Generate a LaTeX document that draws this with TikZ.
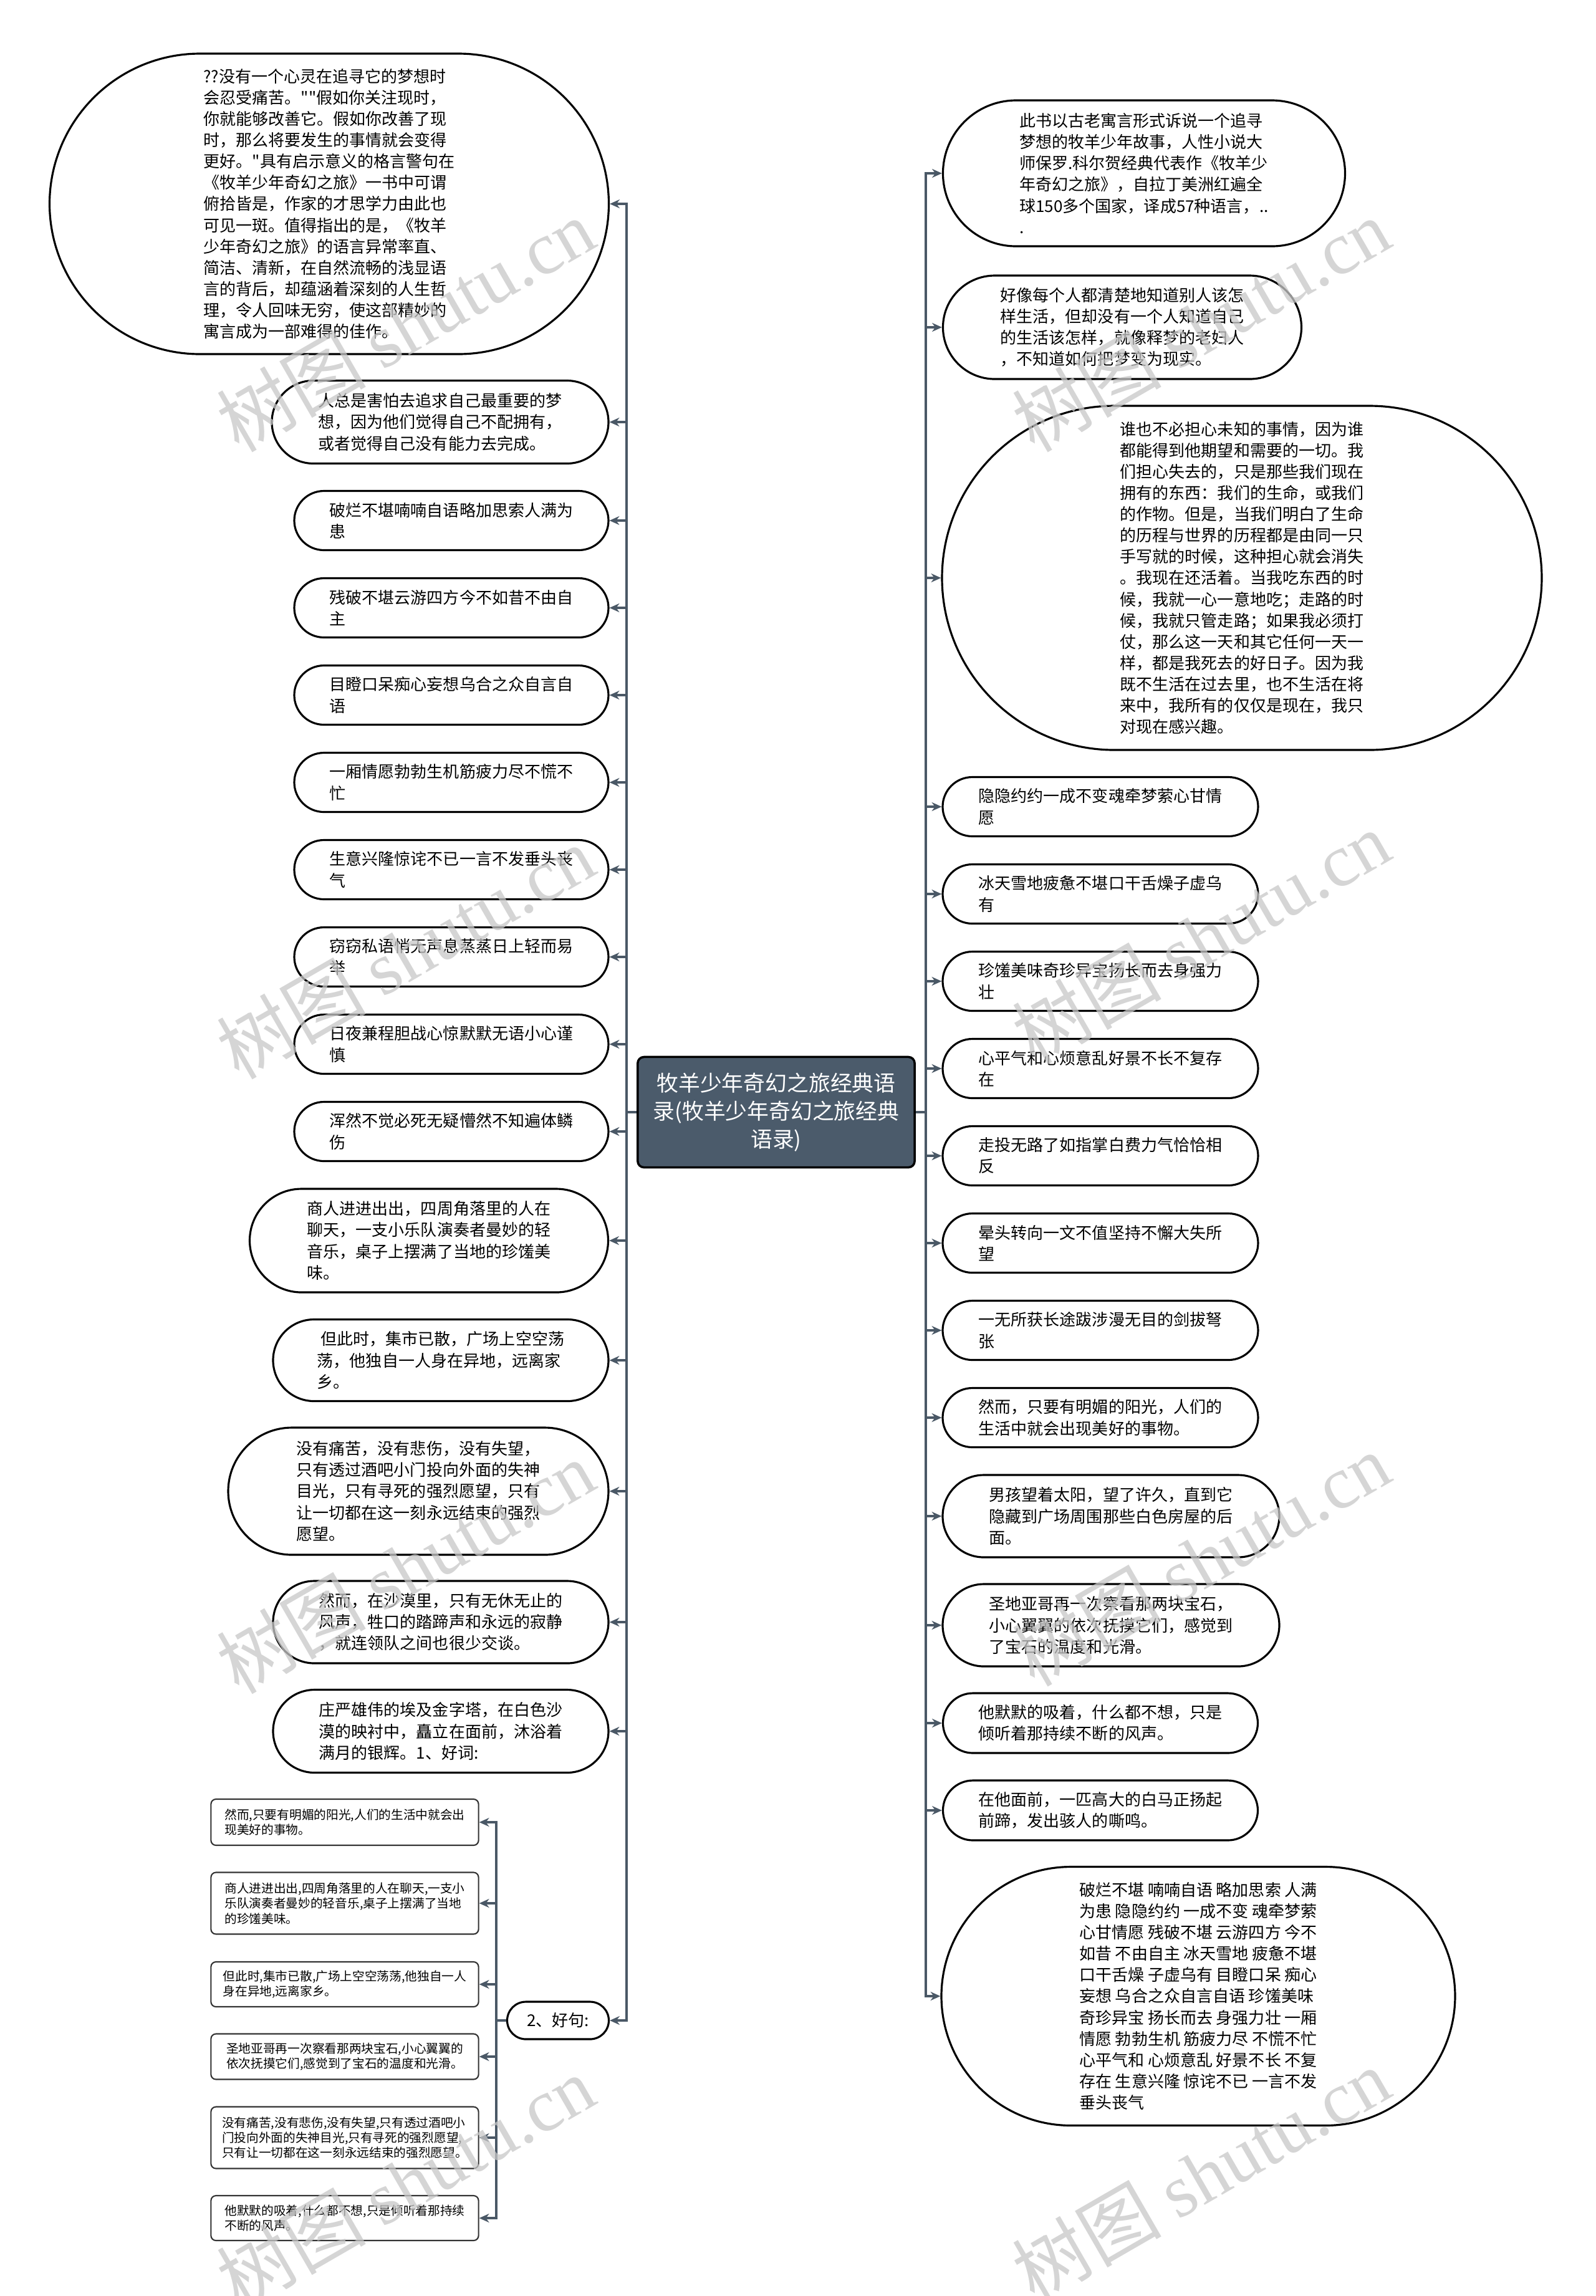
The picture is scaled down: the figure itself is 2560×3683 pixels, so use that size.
\documentclass[tikz,border=0pt]{standalone}
\usepackage{fontspec}
\setmainfont{Noto Sans CJK SC}
\newfontfamily\cjkplain{Noto Sans CJK SC}
\newfontfamily\wmlatin{Liberation Serif}
\usetikzlibrary{arrows.meta}
\definecolor{lnk}{HTML}{4A5866}
\definecolor{ctr}{HTML}{4B5B6B}
\definecolor{wm}{HTML}{C8C8C8}
\newcommand\fmain{\cjkplain\fontsize{7.4pt}{9.7pt}\selectfont}
\newcommand\fsmall{\cjkplain\fontsize{5.6pt}{6.95pt}\selectfont}
\newcommand\fctr{\cjkplain\fontsize{9.9pt}{12.8pt}\selectfont}
\tikzset{
  pill/.style 2 args={draw=black, line width=0.9pt, inner sep=0pt, align=left, font=\fmain,
    minimum width=#1*0.01cm, minimum height=#2*0.01cm, rounded corners=#2*0.005cm},
  cbox/.style={draw=black!80, line width=0.6pt, rounded corners=0.08cm, inner sep=0pt,
    align=left, font=\fsmall, minimum width=4.29cm, minimum height=#1*0.01cm},
  ctrnode/.style={draw=black, fill=ctr, line width=1pt, rounded corners=0.1cm, text=white,
    align=center, font=\fctr, minimum width=4.44cm, minimum height=1.77cm, inner sep=0pt},
  lnkline/.style={draw=lnk, line width=1pt, -{Stealth[length=4.5pt,width=4pt]}},
  wmk/.style={text=wm, rotate=30, font=\cjkplain\fontsize{34pt}{34pt}\selectfont, opacity=0.75}
}
\begin{document}
\begin{tikzpicture}[x=0.01cm,y=-0.01cm]
\fill[white] (0,0) rectangle (2560,3683);
\useasboundingbox (0,0) rectangle (2560,3683);

\node[ctrnode] (ctr) at (1245,1784) {牧羊少年奇幻之旅经典语\\录(牧羊少年奇幻之旅经典\\语录)};

% left
\node[pill={897}{482}] (l1) at (528,327) {??没有一个心灵在追寻它的梦想时\\会忍受痛苦。""假如你关注现时，\\你就能够改善它。假如你改善了现\\时，那么将要发生的事情就会变得\\更好。"具有启示意义的格言警句在\\《牧羊少年奇幻之旅》一书中可谓\\俯拾皆是，作家的才思学力由此也\\可见一斑。值得指出的是，《牧羊\\少年奇幻之旅》的语言异常率直、\\简洁、清新，在自然流畅的浅显语\\言的背后，却蕴涵着深刻的人生哲\\理，令人回味无穷，使这部精妙的\\寓言成为一部难得的佳作。};
\node[pill={540}{133}] (l2) at (706,677) {人总是害怕去追求自己最重要的梦\\想，因为他们觉得自己不配拥有，\\或者觉得自己没有能力去完成。};
\node[pill={504}{95}] (l3) at (724,835) {破烂不堪喃喃自语略加思索人满为\\患};
\node[pill={504}{95}] (l4) at (724,975) {残破不堪云游四方今不如昔不由自\\主};
\node[pill={504}{95}] (l5) at (724,1115) {目瞪口呆痴心妄想乌合之众自言自\\语};
\node[pill={504}{95}] (l6) at (724,1255) {一厢情愿勃勃生机筋疲力尽不慌不\\忙};
\node[pill={504}{95}] (l7) at (724,1395) {生意兴隆惊诧不已一言不发垂头丧\\气};
\node[pill={504}{95}] (l8) at (724,1535) {窃窃私语悄无声息蒸蒸日上轻而易\\举};
\node[pill={504}{95}] (l9) at (724,1675) {日夜兼程胆战心惊默默无语小心谨\\慎};
\node[pill={504}{95}] (l10) at (724,1815) {浑然不觉必死无疑懵然不知遍体鳞\\伤};
\node[pill={575}{166}] (l11) at (688,1990) {商人进进出出，四周角落里的人在\\聊天，一支小乐队演奏者曼妙的轻\\音乐，桌子上摆满了当地的珍馐美\\味。};
\node[pill={538}{131}] (l12) at (707,2182) {\ 但此时，集市已散，广场上空空荡\\荡，他独自一人身在异地，远离家\\乡。};
\node[pill={610}{204}] (l13) at (671,2392) {没有痛苦，没有悲伤，没有失望，\\只有透过酒吧小门投向外面的失神\\目光，只有寻死的强烈愿望，只有\\让一切都在这一刻永远结束的强烈\\愿望。};
\node[pill={538}{132}] (l14) at (707,2602) {然而，在沙漠里，只有无休无止的\\风声，牲口的踏蹄声和永远的寂静\\，就连领队之间也很少交谈。};
\node[pill={538}{133}] (l15) at (707,2777) {庄严雄伟的埃及金字塔，在白色沙\\漠的映衬中，矗立在面前，沐浴着\\满月的银辉。1、好词:};
\node[pill={163}{60}] (l16) at (895,3241) {2、好句:};

% sub children
\node[cbox=74] (c1) at (553,2923) {然而,只要有明媚的阳光,人们的生活中就会出\\现美好的事物。};
\node[cbox=99] (c2) at (553,3053) {商人进进出出,四周角落里的人在聊天,一支小\\乐队演奏者曼妙的轻音乐,桌子上摆满了当地\\的珍馐美味。};
\node[cbox=72] (c3) at (553,3183) {但此时,集市已散,广场上空空荡荡,他独自一人\\身在异地,远离家乡。};
\node[cbox=73] (c4) at (553,3299) {圣地亚哥再一次察看那两块宝石,小心翼翼的\\依次抚摸它们,感觉到了宝石的温度和光滑。};
\node[cbox=99] (c5) at (553,3429) {没有痛苦,没有悲伤,没有失望,只有透过酒吧小\\门投向外面的失神目光,只有寻死的强烈愿望,\\只有让一切都在这一刻永远结束的强烈愿望。};
\node[cbox=72] (c6) at (553,3558) {他默默的吸着,什么都不想,只是倾听着那持续\\不断的风声。};

% right
\node[pill={645}{234}] (r1) at (1835,278) {此书以古老寓言形式诉说一个追寻\\梦想的牧羊少年故事，人性小说大\\师保罗.科尔贺经典代表作《牧羊少\\年奇幻之旅》，自拉丁美洲红遍全\\球150多个国家，译成57种语言，..\\.};
\node[pill={575}{166}] (r2) at (1800,525) {好像每个人都清楚地知道别人该怎\\样生活，但却没有一个人知道自己\\的生活该怎样，就像释梦的老妇人\\，不知道如何把梦变为现实。};
\node[pill={962}{552}] (r3) at (1992,927) {谁也不必担心未知的事情，因为谁\\都能得到他期望和需要的一切。我\\们担心失去的，只是那些我们现在\\拥有的东西：我们的生命，或我们\\的作物。但是，当我们明白了生命\\的历程与世界的历程都是由同一只\\手写就的时候，这种担心就会消失\\。我现在还活着。当我吃东西的时\\候，我就一心一意地吃；走路的时\\候，我就只管走路；如果我必须打\\仗，那么这一天和其它任何一天一\\样，都是我死去的好日子。因为我\\既不生活在过去里，也不生活在将\\来中，我所有的仅仅是现在，我只\\对现在感兴趣。};
\node[pill={506}{95}] (r4) at (1765,1294) {隐隐约约一成不变魂牵梦萦心甘情\\愿};
\node[pill={506}{95}] (r5) at (1765,1434) {冰天雪地疲惫不堪口干舌燥子虚乌\\有};
\node[pill={506}{95}] (r6) at (1765,1574) {珍馐美味奇珍异宝扬长而去身强力\\壮};
\node[pill={506}{95}] (r7) at (1765,1714) {心平气和心烦意乱好景不长不复存\\在};
\node[pill={506}{95}] (r8) at (1765,1854) {走投无路了如指掌白费力气恰恰相\\反};
\node[pill={506}{95}] (r9) at (1765,1994) {晕头转向一文不值坚持不懈大失所\\望};
\node[pill={506}{95}] (r10) at (1765,2134) {一无所获长途跋涉漫无目的剑拔弩\\张};
\node[pill={506}{95}] (r11) at (1765,2274) {然而，只要有明媚的阳光，人们的\\生活中就会出现美好的事物。};
\node[pill={540}{132}] (r12) at (1782,2432) {男孩望着太阳，望了许久，直到它\\隐藏到广场周围那些白色房屋的后\\面。};
\node[pill={540}{132}] (r13) at (1782,2607) {圣地亚哥再一次察看那两块宝石，\\小心翼翼的依次抚摸它们，感觉到\\了宝石的温度和光滑。};
\node[pill={505}{96}] (r14) at (1765,2764) {他默默的吸着，什么都不想，只是\\倾听着那持续不断的风声。};
\node[pill={505}{96}] (r15) at (1765,2904) {在他面前，一匹高大的白马正扬起\\前蹄，发出骇人的嘶鸣。};
\node[pill={824}{415}] (r16) at (1922,3202) {破烂不堪 喃喃自语 略加思索 人满\\为患 隐隐约约 一成不变 魂牵梦萦\\心甘情愿 残破不堪 云游四方 今不\\如昔 不由自主 冰天雪地 疲惫不堪\\口干舌燥 子虚乌有 目瞪口呆 痴心\\妄想 乌合之众自言自语 珍馐美味\\奇珍异宝 扬长而去 身强力壮 一厢\\情愿 勃勃生机 筋疲力尽 不慌不忙\\心平气和 心烦意乱 好景不长 不复\\存在 生意兴隆 惊诧不已 一言不发\\垂头丧气};

% connectors
\foreach \n in {l1,l2,l3,l4,l5,l6,l7,l8,l9,l10,l11,l12,l13,l14,l15,l16}
  \draw[lnkline] (ctr.west) -- ++(-16,0) |- (\n.east);
\foreach \n in {r1,r2,r3,r4,r5,r6,r7,r8,r9,r10,r11,r12,r13,r14,r15,r16}
  \draw[lnkline] (ctr.east) -- ++(16,0) |- (\n.west);
\foreach \n in {c1,c2,c3,c4,c5,c6}
  \draw[lnkline] (l16.west) -- ++(-16,0) |- (\n.east);

% watermarks
\foreach \wx/\wy [count=\i] in {650/521,1926/521,650/1527,1926/1503,650/2513,1926/2501,650/3500,1926/3488}
  \node[wmk] (wm\i) at (\wx,\wy) {树图 {\wmlatin shutu.cn}};
\end{tikzpicture}
\end{document}
